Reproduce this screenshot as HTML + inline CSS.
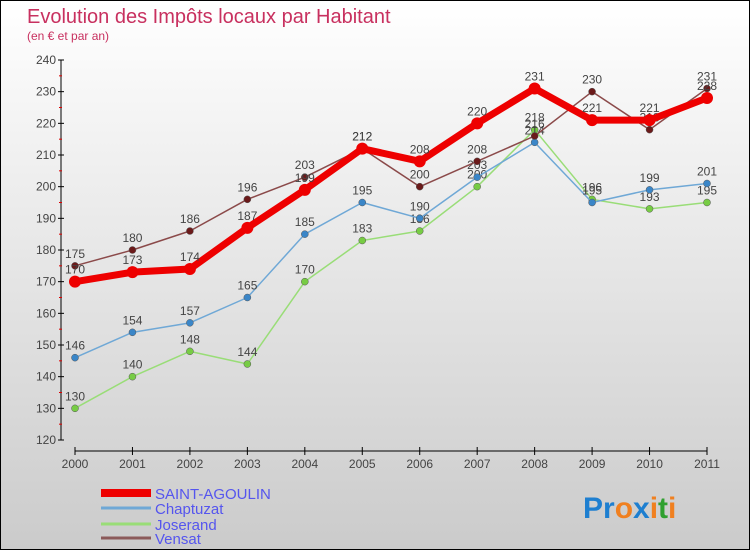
<!DOCTYPE html>
<html><head><meta charset="utf-8"><style>
html,body{margin:0;padding:0}
body{width:750px;height:550px;overflow:hidden;font-family:"Liberation Sans",sans-serif}
#wrap{position:relative;width:748px;height:548px;border:1px solid #000;background:linear-gradient(#fff,#cbcbcb)}
svg text{font-family:"Liberation Sans",sans-serif}
</style></head><body>
<div id="wrap">
<svg id="chart" width="748" height="548">
<text x="26" y="22" font-size="20" fill="#c8305f">Evolution des Impôts locaux par Habitant</text>
<text x="26" y="39" font-size="12" fill="#c8305f">(en € et par an)</text>
<g id="axes"></g><g id="series"></g><g id="legend"></g>
<text x="582" y="517" font-size="30" font-weight="bold"><tspan fill="#1e7fd0">Pr</tspan><tspan fill="#f08020">o</tspan><tspan fill="#1e7fd0">x</tspan><tspan fill="#f08020">i</tspan><tspan fill="#30a030">t</tspan><tspan fill="#f08020">i</tspan></text>
</svg></div>
<script>
const years=["2000","2001","2002","2003","2004","2005","2006","2007","2008","2009","2010","2011"];
const yTicks=[120,130,140,150,160,170,180,190,200,210,220,230,240];
const saint=[170,173,174,187,199,212,208,220,231,221,221,228];
const chaptuzat=[146,154,157,165,185,195,190,203,214,195,199,201];
const joserand=[130,140,148,144,170,183,186,200,218,196,193,195];
const vensat=[175,180,186,196,203,212,200,208,216,230,218,231];
const NS="http://www.w3.org/2000/svg";
function X(i){return 74+i*(632/11);}
function Y(v){return 439-(v-120)*(380/120);}
function mk(t,a,p){const e=document.createElementNS(NS,t);for(const k in a)e.setAttribute(k,a[k]);p.appendChild(e);return e;}
const ax=document.getElementById('axes');
let l=mk('line',{x1:60,y1:Y(240),x2:60,y2:Y(120),stroke:'#000'},ax);


yTicks.forEach(v=>{
 mk('line',{x1:57,y1:Y(v),x2:63,y2:Y(v),stroke:'#000'},ax);
 mk('line',{x1:58,y1:Y(v+5),x2:61,y2:Y(v+5),stroke:v<240?'#d00':'none'},ax);
 const t=mk('text',{x:55,y:Y(v)+4,'font-size':12,'text-anchor':'end',fill:'#444'},ax);t.textContent=v;
 
 
});
l=mk('line',{x1:X(0),y1:450,x2:X(11),y2:450,stroke:'#000'},ax);


years.forEach((y,i)=>{
 mk('line',{x1:X(i),y1:446,x2:X(i),y2:454,stroke:'#000'},ax);
 const t=mk('text',{x:X(i),y:467,'font-size':12,'text-anchor':'middle',fill:'#444'},ax);t.textContent=y;
 
 
});
const series=[
 {name:'joserand',d:joserand,c:'#99dd77',w:1.5,r:3.5,f:'#77cc44'},
 {name:'chaptuzat',d:chaptuzat,c:'#6fa8d6',w:1.5,r:3.5,f:'#3a86c8'},
 {name:'vensat',d:vensat,c:'#8b4a4a',w:1.5,r:3.5,f:'#6b1a1a'},
 {name:'saint-agoulin',d:saint,c:'#ee0000',w:7,r:6,f:'#ee0000'}];
const sg=document.getElementById('series');
series.forEach(s=>{
 const g=mk('g',{},sg);
 
 
 const p=mk('polyline',{points:s.d.map((v,i)=>X(i)+','+Y(v)).join(' '),fill:'none',stroke:s.c,'stroke-width':s.w,'stroke-linejoin':'round'},g);
 
 
 s.d.forEach((v,i)=>{
  const c=mk('circle',{cx:X(i),cy:Y(v),r:s.r,fill:s.f,stroke:s.w>2?'none':'#555','stroke-width':0.5},g);
  
  
  const t=mk('text',{x:X(i),y:Y(v)-8,'font-size':12,'text-anchor':'middle',fill:'#444'},g);t.textContent=v;
  
  
 });
});
const lg=document.getElementById('legend');
const leg=[['SAINT-AGOULIN','#ee0000',8],['Chaptuzat','#6fa8d6',3],['Joserand','#99dd77',3],['Vensat','#8b5a5a',3]];
const ly=[492,507,523,537];
leg.forEach((e,i)=>{
 const g=mk('g',{},lg);
 
 
 mk('line',{x1:100,y1:ly[i],x2:150,y2:ly[i],stroke:e[1],'stroke-width':e[2]},g);
 const t=mk('text',{x:154,y:ly[i]+6,'font-size':15,fill:'#5555ee'},g);t.textContent=e[0];
});
</script>
</body></html>
